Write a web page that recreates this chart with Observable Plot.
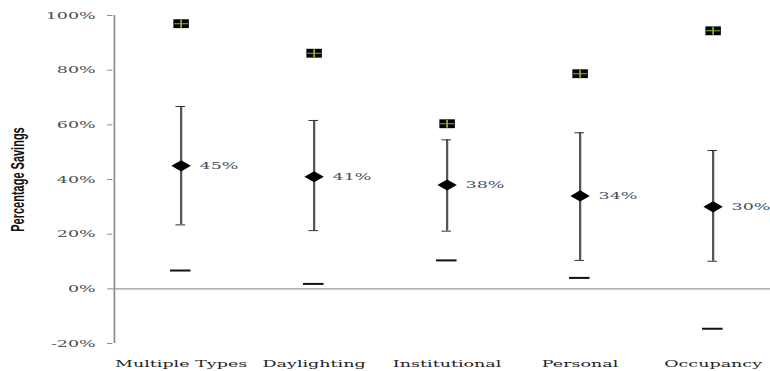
<!DOCTYPE html>
<html>
<head>
<meta charset="utf-8">
<script src="https://cdn.jsdelivr.net/npm/d3@7"></script>
<script src="https://cdn.jsdelivr.net/npm/@observablehq/plot@0.6"></script>
<style>
  html, body { margin: 0; padding: 0; background: #fff; overflow: hidden; }
  #chart { width: 770px; height: 371px; overflow: hidden; }
  #chart svg { display: block; transform: scaleX(1.75); transform-origin: 0 0; overflow: visible; }
</style>
</head>
<body>
<div id="chart"></div>
<script>
// ---- data ----
const categories = ["Multiple Types", "Daylighting", "Institutional", "Personal", "Occupancy"];
const means  = [0.45, 0.41, 0.38, 0.34, 0.30];
const upper  = [0.667, 0.616, 0.545, 0.571, 0.506];
const lower  = [0.234, 0.213, 0.211, 0.104, 0.101];
const maxima = [0.970, 0.862, 0.604, 0.787, 0.944];
const minima = [0.067, 0.018, 0.104, 0.040, -0.146];
const yTicks = [-0.2, 0, 0.2, 0.4, 0.6, 0.8, 1.0];
const yTickLabels = ["-20%", "0%", "20%", "40%", "60%", "80%", "100%"];
const yLabel = "Percentage Savings";

const rows = categories.map((c, i) => ({
  cat: c, mean: means[i], hi: upper[i], lo: lower[i], max: maxima[i], min: minima[i]
}));

// layout (unscaled coordinates; the SVG is stretched horizontally by 1.75)
const W = 440, H = 371;
const xRange = [64.2, 445.4];
const step = (xRange[1] - xRange[0]) / categories.length;

const plusSymbol = {
  draw(context, size) {
    const h = Math.sqrt(size) * 0.45;
    context.moveTo(-h, 0); context.lineTo(h, 0);
    context.moveTo(0, -h); context.lineTo(0, h);
  }
};

const chart = Plot.plot({
  width: W,
  height: H,
  marginLeft: xRange[0],
  marginRight: 0,
  marginTop: 15,
  marginBottom: 28,
  style: { fontFamily: "'DejaVu Serif', serif", fontSize: "10px", color: "#333", background: "transparent" },
  x: { type: "band", domain: categories, range: xRange, padding: 0 },
  y: { domain: [yTicks[0], yTicks[yTicks.length - 1]] },
  marks: [
    // zero line
    Plot.ruleY([0], { stroke: "#9a9a9a", strokeWidth: 1.3 }),
    // vertical axis line
    Plot.ruleX([categories[0]], { x: d => d, y1: yTicks[0], y2: yTicks[yTicks.length - 1], dx: -step / 2, stroke: "#8c8c8c", strokeWidth: 1 }),
    Plot.axisY({
      ticks: yTicks,
      tickFormat: d => yTickLabels[yTicks.findIndex(t => Math.abs(t - d) < 1e-9)],
      tickSize: 3, tickPadding: 7, stroke: "#8c8c8c", fill: "#4a4a4a", label: null
    }),
    Plot.axisX({ tickSize: 0, tickPadding: 16, fill: "#222", label: null }),
    // y label
    Plot.text([yLabel], {
      frameAnchor: "left", textAnchor: "middle", lineAnchor: "middle", rotate: -90, dx: -54.5, text: d => d,
      fontFamily: "'Liberation Sans Narrow', 'Arial Narrow', 'Liberation Sans', sans-serif",
      fontWeight: "bold", fontSize: 11, fill: "#111"
    }),
    // error bars
    Plot.ruleX(rows, { x: "cat", y1: "lo", y2: "hi", stroke: "#555", strokeWidth: 1.3 }),
    Plot.tickY(rows, { x: "cat", y: "hi", insetLeft: (step - 5.7) / 2, insetRight: (step - 5.7) / 2, stroke: "#333", strokeWidth: 1 }),
    Plot.tickY(rows, { x: "cat", y: "lo", insetLeft: (step - 5.7) / 2, insetRight: (step - 5.7) / 2, stroke: "#333", strokeWidth: 1 }),
    // minimum dash
    Plot.tickY(rows, { x: "cat", y: "min", insetLeft: (step - 12) / 2, insetRight: (step - 12) / 2, stroke: "#111", strokeWidth: 2 }),
    // maximum marker: black square with green cross
    Plot.dot(rows, { x: "cat", y: "max", symbol: "square", r: 5, fill: "#050505", stroke: "none" }),
    Plot.dot(rows, { x: "cat", y: "max", symbol: plusSymbol, r: 5, fill: "none", stroke: "#86b43a", strokeWidth: 1 }),
    // mean diamond
    Plot.dot(rows, { x: "cat", y: "mean", symbol: "diamond2", r: 5, fill: "#000", stroke: "none" }),
    Plot.text(rows, {
      x: "cat", y: "mean", text: d => `${Math.round(d.mean * 100)}%`,
      textAnchor: "start", dx: 10.5, fill: "#3d4f66", fontSize: 10
    })
  ]
});

document.getElementById("chart").appendChild(chart);
</script>
</body>
</html>
